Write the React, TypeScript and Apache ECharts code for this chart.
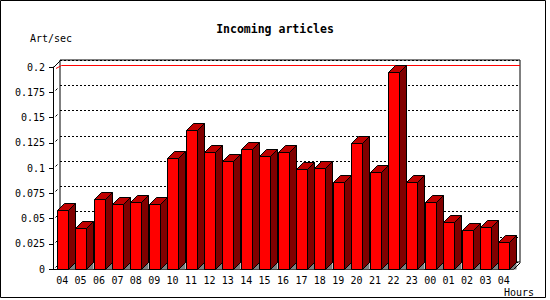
import React, { useEffect, useRef } from 'react';
import * as echarts from 'echarts';

const categories = ['04', '05', '06', '07', '08', '09', '10', '11', '12', '13', '14', '15', '16', '17', '18', '19', '20', '21', '22', '23', '00', '01', '02', '03', '04'];
const values = [0.058, 0.0405, 0.069, 0.0645, 0.066, 0.0645, 0.1097, 0.1374, 0.1157, 0.1068, 0.1186, 0.1117, 0.1157, 0.0989, 0.0999, 0.0866, 0.1246, 0.0965, 0.1948, 0.0866, 0.0659, 0.047, 0.039, 0.042, 0.0267];
const yMin = 0;
const yMax = 0.2;
const yStep = 0.025;
const titleText = 'Incoming articles';
const yName = 'Art/sec';
const xName = 'Hours';

const FONT = '"DejaVu Sans Mono", "Liberation Mono", monospace';
const DEPTH = 7;
const px = (v: number) => Math.round(v) + 0.5;

export default function App() {
  const ref = useRef<HTMLDivElement>(null);
  useEffect(() => {
    const chart = echarts.init(ref.current!, null, { renderer: 'svg' });
    const maxVal = Math.max(...values);
    const option: any = {
      animation: false,
      backgroundColor: '#fff',
      title: {
        text: titleText,
        left: 'center',
        top: 18,
        textStyle: { fontFamily: FONT, fontSize: 11.5, fontWeight: 'bold', color: '#000' },
      },
      grid: [
        { left: 53, top: 67, width: 460, height: 202, containLabel: false, outerBoundsMode: 'none' },
        {
          left: 60, top: 60, width: 460, height: 202, containLabel: false, outerBoundsMode: 'none',
          show: true, borderColor: '#000', borderWidth: 1, backgroundColor: '#fff',
        },
      ],
      xAxis: [
        {
          type: 'category', gridIndex: 0, data: categories,
          axisLine: { lineStyle: { color: '#000', width: 1 } },
          axisTick: { length: 4, lineStyle: { color: '#000' } },
          axisLabel: { interval: 0, color: '#000', fontFamily: FONT, fontSize: 10, margin: 6 },
        },
        { type: 'category', gridIndex: 1, data: categories, show: false },
      ],
      yAxis: [
        {
          type: 'value', gridIndex: 0, min: yMin, max: yMax, interval: yStep,
          axisLine: { show: true, lineStyle: { color: '#000', width: 1 } },
          axisTick: { show: true, length: 4, lineStyle: { color: '#000' } },
          axisLabel: { color: '#000', fontFamily: FONT, fontSize: 10, margin: 8 },
          splitLine: { show: false },
        },
        {
          type: 'value', gridIndex: 1, min: yMin, max: yMax, interval: yStep,
          axisLine: { show: false }, axisTick: { show: false }, axisLabel: { show: false },
          splitLine: { show: true, lineStyle: { color: '#000', width: 1, type: [2, 2] } },
        },
      ],
      graphic: [
        { type: 'rect', shape: { x: 0.5, y: 0.5, width: 545, height: 297 }, style: { fill: 'none', stroke: '#000', lineWidth: 1 }, z: 100 },
        { type: 'text', x: 30, y: 38, style: { text: yName, fontFamily: FONT, fontSize: 10, fill: '#000', textVerticalAlign: 'middle', verticalAlign: 'middle' } },
        { type: 'text', x: 519, y: 292, style: { text: xName, fontFamily: FONT, fontSize: 10, fill: '#000', align: 'center', textAlign: 'center', verticalAlign: 'middle', textVerticalAlign: 'middle' } },
      ],
      series: [
        {
          type: 'custom', name: 'maxline', xAxisIndex: 1, yAxisIndex: 1, z: 1, silent: true, clip: false,
          data: [[0, maxVal]],
          renderItem: (params: any, api: any) => {
            const cs = params.coordSys;
            const y = px(api.coord([0, api.value(1)])[1]);
            return {
              type: 'polyline',
              shape: { points: [[cs.x - 4, y + 3], [cs.x + 1.5, y], [cs.x + cs.width, y]] },
              style: { stroke: '#ff0000', lineWidth: 1, fill: 'none' },
            };
          },
        },
        {
          type: 'custom', name: 'frame', xAxisIndex: 0, yAxisIndex: 0, z: 3, silent: true, clip: false,
          data: [[0, 0]],
          renderItem: (params: any, api: any) => {
            const cs = params.coordSys;
            const l = px(cs.x), t = px(cs.y), r = px(cs.x + cs.width), b = px(cs.y + cs.height);
            const children: any[] = [
              { type: 'line', shape: { x1: l, y1: t, x2: l + DEPTH, y2: t - DEPTH }, style: { stroke: '#000', lineWidth: 1 } },
              { type: 'line', shape: { x1: r, y1: b, x2: r + DEPTH, y2: b - DEPTH }, style: { stroke: '#000', lineWidth: 1 } },
            ];
            for (let v = yMin; v < yMax - 1e-9; v += yStep) {
              const y = px(api.coord([0, v])[1]);
              children.push({ type: 'line', shape: { x1: l + 2, y1: y - 2, x2: l + 4, y2: y - 4 }, style: { stroke: '#000', lineWidth: 1 } });
            }
            return { type: 'group', children };
          },
        },
        {
          type: 'custom', name: 'Incoming', xAxisIndex: 0, yAxisIndex: 0, z: 2, clip: false,
          data: values.map((v, i) => [i, v]),
          encode: { x: 0, y: 1 },
          renderItem: (params: any, api: any) => {
            const idx = api.value(0);
            const v = api.value(1);
            const topPt = api.coord([idx, v]);
            const basePt = api.coord([idx, 0]);
            const band = api.size([1, 0])[0];
            const w = Math.round(band * 0.6);
            const x0 = px(topPt[0] - w / 2);
            const x1 = x0 + w;
            const yT = px(topPt[1]);
            const yB = px(basePt[1]);
            const d = DEPTH;
            return {
              type: 'group',
              children: [
                { type: 'polygon', shape: { points: [[x1, yB], [x1 + d, yB - d], [x1 + d, yB]] }, style: { fill: '#808080', stroke: 'none' } },
                { type: 'polygon', shape: { points: [[x1, yT], [x1 + d, yT - d], [x1 + d, yB - d], [x1, yB]] }, style: { fill: '#800000', stroke: '#000', lineWidth: 1 } },
                { type: 'polygon', shape: { points: [[x0, yT], [x0 + d, yT - d], [x1 + d, yT - d], [x1, yT]] }, style: { fill: '#c00000', stroke: '#000', lineWidth: 1 } },
                { type: 'rect', shape: { x: x0, y: yT, width: w, height: yB - yT }, style: { fill: '#ff0000', stroke: '#000', lineWidth: 1 } },
              ],
            };
          },
        },
      ],
    };
    chart.setOption(option);
    return () => chart.dispose();
  }, []);
  return <div ref={ref} style={{ position: 'fixed', left: 0, top: 0, width: 550, height: 300 }} />;
}
